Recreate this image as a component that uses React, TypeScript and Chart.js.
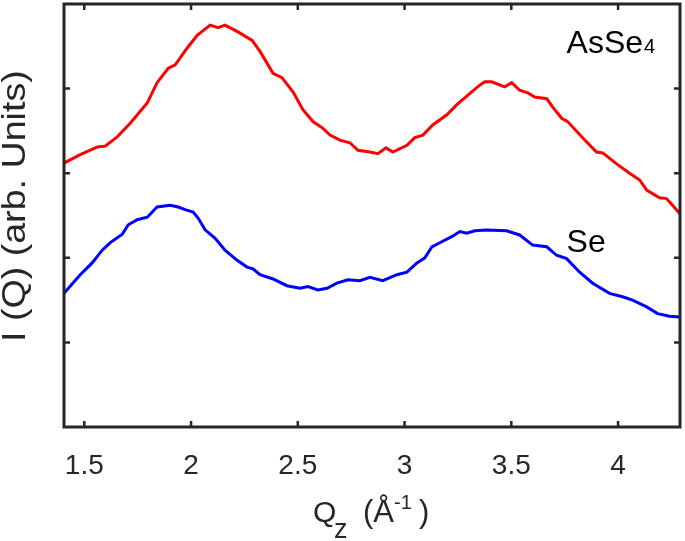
import React, { useEffect, useRef } from "react";
import { Chart, registerables } from "chart.js";

Chart.register(...registerables);

// ---- data (Q in Å^-1, intensity in arbitrary units, offset curves) ----
const qAsSe4 = [1.405, 1.481, 1.561, 1.598, 1.654, 1.715, 1.795, 1.841, 1.893, 1.926, 1.982, 2.029, 2.089, 2.127, 2.159, 2.22, 2.286, 2.323, 2.384, 2.426, 2.478, 2.524, 2.571, 2.618, 2.651, 2.697, 2.744, 2.782, 2.838, 2.875, 2.913, 2.945, 3.011, 3.048, 3.086, 3.132, 3.198, 3.245, 3.305, 3.352, 3.376, 3.408, 3.469, 3.502, 3.539, 3.577, 3.609, 3.666, 3.694, 3.736, 3.764, 3.834, 3.899, 3.928, 3.993, 4.054, 4.101, 4.134, 4.194, 4.227, 4.255, 4.29];
const iAsSe4 = [3.12, 3.22, 3.31, 3.32, 3.43, 3.59, 3.83, 4.07, 4.24, 4.28, 4.48, 4.63, 4.75, 4.72, 4.75, 4.67, 4.57, 4.44, 4.18, 4.13, 3.96, 3.75, 3.61, 3.53, 3.45, 3.39, 3.36, 3.27, 3.25, 3.23, 3.3, 3.25, 3.33, 3.42, 3.45, 3.57, 3.69, 3.81, 3.94, 4.04, 4.08, 4.08, 4.02, 4.07, 3.98, 3.95, 3.9, 3.88, 3.78, 3.65, 3.61, 3.42, 3.25, 3.24, 3.11, 3.0, 2.92, 2.8, 2.71, 2.7, 2.62, 2.52];

const qSe = [1.405, 1.481, 1.537, 1.584, 1.622, 1.678, 1.706, 1.748, 1.795, 1.841, 1.902, 1.94, 1.972, 2.01, 2.033, 2.066, 2.113, 2.159, 2.216, 2.262, 2.29, 2.323, 2.384, 2.449, 2.51, 2.548, 2.594, 2.637, 2.683, 2.735, 2.791, 2.838, 2.898, 2.964, 3.011, 3.058, 3.095, 3.128, 3.174, 3.221, 3.259, 3.291, 3.329, 3.385, 3.478, 3.539, 3.6, 3.666, 3.712, 3.759, 3.82, 3.881, 3.96, 4.021, 4.068, 4.134, 4.185, 4.241, 4.29];
const iSe = [1.58, 1.8, 1.94, 2.09, 2.18, 2.28, 2.39, 2.45, 2.48, 2.6, 2.62, 2.6, 2.57, 2.54, 2.47, 2.33, 2.23, 2.09, 1.97, 1.89, 1.87, 1.8, 1.75, 1.67, 1.64, 1.66, 1.62, 1.64, 1.7, 1.74, 1.73, 1.77, 1.73, 1.8, 1.83, 1.94, 2.0, 2.13, 2.19, 2.25, 2.31, 2.29, 2.32, 2.33, 2.32, 2.27, 2.15, 2.13, 2.03, 1.99, 1.83, 1.7, 1.58, 1.54, 1.5, 1.42, 1.34, 1.31, 1.3];

const xTickValues = [1.5, 2, 2.5, 3, 3.5, 4];
const xTickLabels = ["1.5", "2", "2.5", "3", "3.5", "4"];
const yTickValues = [1, 2, 3, 4];
const seriesNames = ["AsSe4", "Se"];
const seriesColors = ["#ff0000", "#0000ff"];

const FONT = "'Liberation Sans', Arial, Helvetica, sans-serif";
const AXIS_COLOR = "#262626";

const framePlugin = {
  id: "matlabFrame",
  afterDraw(chart: any) {
    const { ctx, chartArea: a, scales } = chart;
    const xs = scales.x;
    const ys = scales.y;
    ctx.save();
    // ticks (inward, mirrored)
    ctx.strokeStyle = AXIS_COLOR;
    ctx.lineWidth = 2.5;
    const tl = 6;
    ctx.beginPath();
    xTickValues.forEach((v) => {
      const px = xs.getPixelForValue(v);
      ctx.moveTo(px, a.bottom);
      ctx.lineTo(px, a.bottom - tl);
      ctx.moveTo(px, a.top);
      ctx.lineTo(px, a.top + tl);
    });
    yTickValues.forEach((v) => {
      const py = ys.getPixelForValue(v);
      ctx.moveTo(a.left, py);
      ctx.lineTo(a.left + tl, py);
      ctx.moveTo(a.right, py);
      ctx.lineTo(a.right - tl, py);
    });
    ctx.stroke();
    // frame
    ctx.lineWidth = 3;
    ctx.strokeRect(a.left, a.top, a.right - a.left, a.bottom - a.top);

    // curve labels
    ctx.fillStyle = "#000";
    ctx.textBaseline = "alphabetic";
    ctx.textAlign = "left";
    const lx = xs.getPixelForValue(3.759);
    ctx.font = `32px ${FONT}`;
    const main = seriesNames[0].slice(0, 4);
    const ay = ys.getPixelForValue(4.42);
    ctx.fillText(main, lx, ay);
    const w = ctx.measureText(main).width;
    ctx.font = `20px ${FONT}`;
    ctx.fillText(seriesNames[0].slice(4), lx + w + 1, ay);
    ctx.font = `32px ${FONT}`;
    ctx.fillText(seriesNames[1], lx, ys.getPixelForValue(2.07));

    // x title: Q_z (Å^-1)
    ctx.fillStyle = AXIS_COLOR;
    const cx = (a.left + a.right) / 2;
    const base = 522;
    ctx.font = `30px ${FONT}`;
    ctx.fillText("Q", cx - 59, base);
    ctx.font = `27px ${FONT}`;
    ctx.fillText("z", cx - 38, base + 16);
    ctx.font = `31px ${FONT}`;
    ctx.fillText("(Å", cx - 9, base);
    ctx.font = `20px ${FONT}`;
    ctx.fillText("-1", cx + 22, base - 13);
    ctx.font = `31px ${FONT}`;
    ctx.fillText(")", cx + 47, base);

    // y title
    ctx.save();
    ctx.translate(25, 342);
    ctx.rotate(-Math.PI / 2);
    ctx.scale(1.14, 1);
    ctx.font = `33px ${FONT}`;
    ctx.textAlign = "left";
    ctx.fillText("I (Q) (arb. Units)", 0, 0);
    ctx.restore();

    ctx.restore();
  },
};

export default function App() {
  const ref = useRef<HTMLCanvasElement>(null);
  useEffect(() => {
    if (!ref.current) return;
    const chart = new Chart(ref.current, {
      type: "line",
      data: {
        datasets: [
          {
            label: seriesNames[0],
            data: qAsSe4.map((q, i) => ({ x: q, y: iAsSe4[i] })),
            borderColor: seriesColors[0],
            borderWidth: 3,
            pointRadius: 0,
            tension: 0,
            fill: false,
          },
          {
            label: seriesNames[1],
            data: qSe.map((q, i) => ({ x: q, y: iSe[i] })),
            borderColor: seriesColors[1],
            borderWidth: 3,
            pointRadius: 0,
            tension: 0,
            fill: false,
          },
        ],
      },
      options: {
        responsive: false,
        animation: false,
        devicePixelRatio: 1,
        layout: { padding: { left: 64, right: 5, top: 4, bottom: 0 } },
        plugins: { legend: { display: false }, tooltip: { enabled: false } },
        scales: {
          x: {
            type: "linear",
            min: 1.405,
            max: 4.29,
            grid: { display: false },
            border: { display: false },
            afterBuildTicks: (s: any) => {
              s.ticks = xTickValues.map((v) => ({ value: v }));
            },
            afterFit: (s: any) => {
              s.height = 114;
            },
            ticks: {
              font: { family: FONT, size: 28 },
              color: AXIS_COLOR,
              padding: 14,
              maxRotation: 0,
              autoSkip: false,
              callback: (_v: any, i: number) => xTickLabels[i],
            },
          },
          y: {
            type: "linear",
            min: 0,
            max: 5,
            display: false,
          },
        },
      },
      plugins: [framePlugin],
    } as any);
    return () => chart.destroy();
  }, []);
  return (
    <div style={{ position: "fixed", left: 0, top: 0, width: 685, height: 541, background: "#fff" }}>
      <canvas ref={ref} width={685} height={541} style={{ display: "block" }} />
    </div>
  );
}
